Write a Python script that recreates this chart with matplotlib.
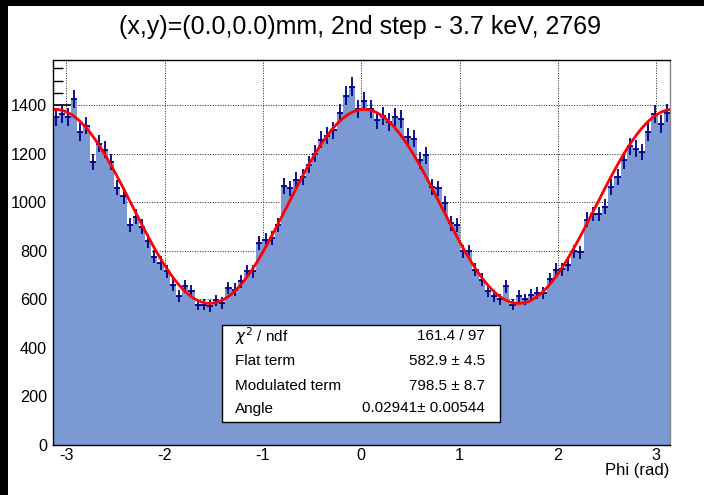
import numpy as np
import matplotlib
matplotlib.use("Agg")
import matplotlib.pyplot as plt
from matplotlib.patches import Rectangle
from matplotlib.ticker import MultipleLocator

plt.rcParams['font.family'] = ['Liberation Sans', 'DejaVu Sans']
plt.rcParams['axes.unicode_minus'] = False

# ---- data ----
counts = [1349, 1363, 1350, 1425, 1288, 1315, 1165, 1240, 1215, 1165,
          1060, 1025, 906, 940, 899, 838, 776, 749, 715, 660,
          612, 653, 633, 578, 578, 571, 595, 585, 647, 640,
          674, 715, 715, 831, 844, 851, 906, 1066, 1056, 1090,
          1104, 1154, 1199, 1257, 1274, 1295, 1366, 1438, 1475, 1384,
          1415, 1384, 1336, 1356, 1329, 1349, 1343, 1268, 1261, 1172,
          1193, 1063, 1056, 995, 913, 906, 797, 797, 722, 681,
          633, 612, 599, 653, 578, 612, 599, 619, 626, 626,
          683, 722, 724, 742, 797, 793, 927, 951, 951, 981,
          1063, 1104, 1172, 1229, 1220, 1206, 1288, 1363, 1322, 1366]
flat_term = 582.9
flat_err = 4.5
mod_term = 798.5
mod_err = 8.7
angle = 0.02941
angle_err = 0.00544
chi2 = 161.4
ndf = 97
title = "(x,y)=(0.0,0.0)mm, 2nd step - 3.7 keV, 2769"
xlabel = "Phi (rad)"

counts = np.array(counts, dtype=float)
nb = len(counts)
edges = np.linspace(-np.pi, np.pi, nb + 1)
centers = 0.5 * (edges[:-1] + edges[1:])
width = edges[1] - edges[0]

W, H = 704, 495
fig = plt.figure(figsize=(W / 100, H / 100), dpi=100)
fig.patch.set_facecolor('white')
ax = fig.add_axes([52.5 / W, 1 - 445 / H, (670 - 52.5) / W, (445 - 59.5) / H])

# grid behind
ax.set_axisbelow(True)
ax.grid(True, which='major', color='#222222', linestyle=(0, (1, 1.6)), linewidth=0.7)

# histogram fill
ax.stairs(counts, edges, fill=True, color='#7b99d3', zorder=2)
# error bars
ax.errorbar(centers, counts, yerr=np.sqrt(counts), xerr=width / 2, fmt='none',
            ecolor='#00008a', elinewidth=1.3, capsize=0, zorder=3)
# fit
xf = np.linspace(-np.pi, np.pi, 600)
yf = flat_term + mod_term * np.cos(xf - angle) ** 2
ax.plot(xf, yf, color='#ff0000', linewidth=2.0, zorder=4)

ax.set_xlim(-np.pi, np.pi)
ax.set_ylim(0, 1587)

ax.xaxis.set_major_locator(MultipleLocator(1))
ax.xaxis.set_minor_locator(MultipleLocator(0.2))
ax.yaxis.set_major_locator(MultipleLocator(200))
ax.yaxis.set_minor_locator(MultipleLocator(50))
ax.tick_params(axis='both', which='both', direction='in', top=False, right=False,
               colors='black')
ax.tick_params(axis='y', which='major', length=13, width=1.2, pad=4, labelsize=11.7)
ax.tick_params(axis='y', which='minor', length=7.2, width=1.0)
ax.tick_params(axis='x', which='major', length=8.6, width=1.2, pad=2.5, labelsize=11.7)
ax.tick_params(axis='x', which='minor', length=4.3, width=1.0)

for s in ['left', 'bottom', 'top']:
    ax.spines[s].set_color('black')
    ax.spines[s].set_linewidth(1.0)
ax.spines['right'].set_color('#888888')
ax.spines['right'].set_linewidth(1.0)
ax.spines['left'].set_zorder(5)
ax.spines['bottom'].set_zorder(5)

fig.text(360 / W, 1 - 27 / H, title, ha='center', va='center', fontsize=18)
fig.text(669 / W, 1 - 470 / H, xlabel, ha='right', va='center', fontsize=12)

# stats box
bx0, bx1, by0, by1 = 222, 500, 325, 422
fig.patches.append(Rectangle((bx0 / W, 1 - by1 / H), (bx1 - bx0) / W, (by1 - by0) / H,
                             transform=fig.transFigure, facecolor='white',
                             edgecolor='black', linewidth=1.0, zorder=10))
rows = [
    (r"$\chi^{2}$ / ndf", f"{chi2:.1f} / {ndf}"),
    ("Flat term", f"{flat_term:.1f} \u00b1 {flat_err:.1f}"),
    ("Modulated term", f"{mod_term:.1f} \u00b1 {mod_err:.1f}"),
    ("Angle", f"{angle:.5f}\u00b1 {angle_err:.5f}"),
]
ys = [336, 361, 385.5, 408.5]
for (lab, val), yy in zip(rows, ys):
    fig.text(235 / W, 1 - yy / H, lab, ha='left', va='center', fontsize=11, zorder=11)
    fig.text(485 / W, 1 - yy / H, val, ha='right', va='center', fontsize=11, zorder=11)

# black strips at left/top edges of the image
fig.patches.append(Rectangle((0, 0), 8 / W, 1, transform=fig.transFigure,
                             facecolor='black', edgecolor='none', zorder=20))
fig.patches.append(Rectangle((0, 1 - 5.5 / H), 1, 5.5 / H, transform=fig.transFigure,
                             facecolor='black', edgecolor='none', zorder=20))

fig.savefig("out.png", dpi=100)
